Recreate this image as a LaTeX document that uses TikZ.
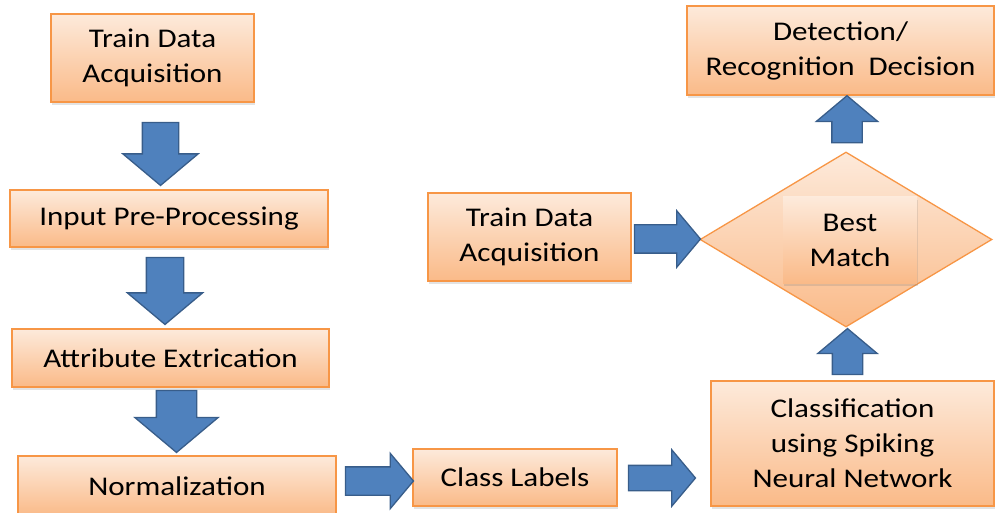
\documentclass[tikz,border=0pt]{standalone}
\usepackage{fontspec}
\setmainfont{Carlito}[FakeStretch=1.15]
\usetikzlibrary{shapes.geometric,shapes.arrows,shadows,calc}

\definecolor{boxtop}{RGB}{253,234,219}
\definecolor{boxbot}{RGB}{250,186,136}
\definecolor{boxline}{RGB}{247,150,70}
\definecolor{arrfill}{RGB}{79,129,189}
\definecolor{arrline}{RGB}{56,93,138}

\tikzset{
	stage/.style={rectangle, draw=boxline, line width=1.6pt, top color=boxtop, bottom color=boxbot,
		inner sep=0pt, align=center, font=\fontsize{27}{35}\selectfont,
		drop shadow={opacity=0.22, shadow xshift=1pt, shadow yshift=-3pt}},
	blockarrow/.style={single arrow, draw=arrline, fill=arrfill, line width=1.3pt,
		inner xsep=0pt, single arrow tip angle=100, anchor=tail},
}

\begin{document}
\begin{tikzpicture}[x=1pt, y=-1pt]
		\useasboundingbox (0, 0) rectangle (996, 513);
		\node [stage, minimum width=203pt, minimum height=88pt] at (152.5, 58) (trainL) {Train Data\\Acquisition};
		\node [stage, minimum width=318pt, minimum height=57pt] at (169, 218.5) (prep) {Input Pre-Processing};
		\node [stage, minimum width=317pt, minimum height=58pt] at (170.5, 358) (attr) {Attribute Extrication};
		\node [stage, minimum width=318pt, minimum height=60pt] at (177, 486) (norm) {Normalization};
		\node [stage, minimum width=204pt, minimum height=57pt] at (515, 477.5) (cls) {Class Labels};
		\node [stage, minimum width=283pt, minimum height=125pt] at (852.5, 443.5) (snn) {Classification\\using Spiking\\Neural Network};
		\node [stage, minimum width=203pt, minimum height=88pt] at (529.5, 237) (trainR) {Train Data\\Acquisition};
		\node [diamond, draw=boxline, line width=1.3pt, top color=boxtop, bottom color=boxbot,
			inner sep=0pt, minimum width=292pt, minimum height=175pt] at (846, 239.5) (match) {};
		\node [stage, draw=none, minimum width=134pt, minimum height=86pt] at (850, 240) (best) {Best\\Match};
		\node [stage, minimum width=307pt, minimum height=89pt] at (840.5, 50.5) (decision) {Detection/\\Recognition\ \ Decision};

		\node [blockarrow, rotate=-90, minimum height=63pt, inner ysep=17.5pt, single arrow head extend=19.5pt]
			at ($(trainL.south)+(8, 19)$) (a1) {};
		\node [blockarrow, rotate=-90, minimum height=67pt, inner ysep=18pt, single arrow head extend=19pt]
			at ($(prep.south)+(-4, 9)$) (a2) {};
		\node [blockarrow, rotate=-90, minimum height=62pt, inner ysep=19.5pt, single arrow head extend=21.5pt]
			at ($(attr.south)+(6, 2)$) (a3) {};
		\node [blockarrow, minimum height=68pt, inner ysep=13.5pt, single arrow head extend=13.5pt]
			at ($(norm.east)+(8, -5)$) (a4) {};
		\node [blockarrow, minimum height=67pt, inner ysep=12pt, single arrow head extend=15.5pt]
			at ($(cls.east)+(10, 0.5)$) (a5) {};
		\node [blockarrow, minimum height=66pt, inner ysep=13.5pt, single arrow head extend=14pt]
			at ($(trainR.east)+(2, 2)$) (a6) {};
		\node [blockarrow, rotate=90, minimum height=46pt, inner ysep=14.5pt, single arrow head extend=14.5pt]
			at ($(snn.north)+(-5, -5)$) (a7) {};
		\node [blockarrow, rotate=90, minimum height=47pt, inner ysep=14.5pt, single arrow head extend=15.5pt]
			at ($(match.north)+(1, -8)$) (a8) {};
	\end{tikzpicture}
\end{document}
